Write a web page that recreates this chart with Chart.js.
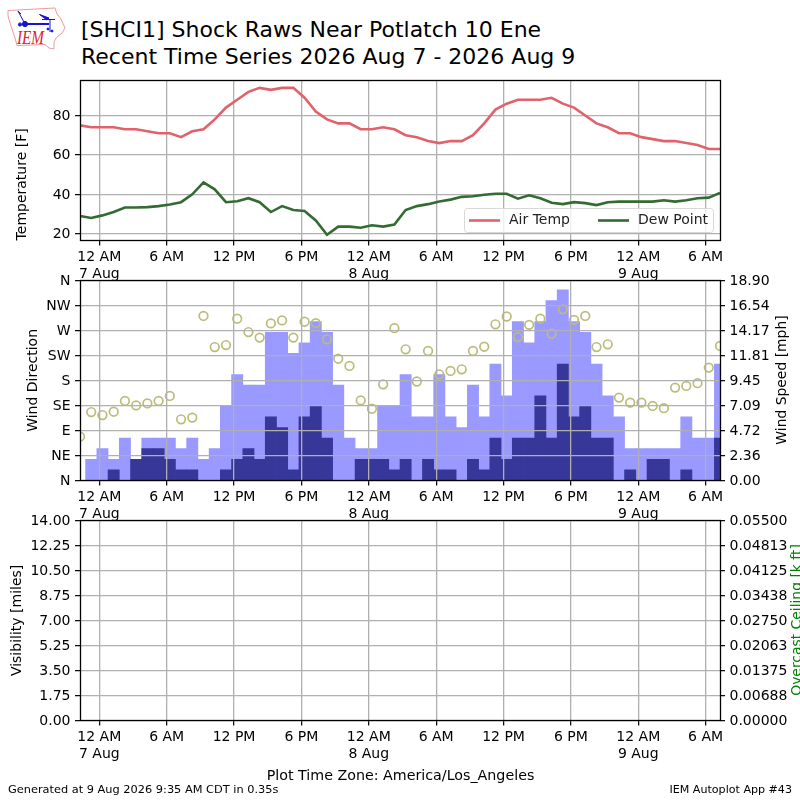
<!DOCTYPE html>
<html><head><meta charset="utf-8">
<script src="https://cdn.jsdelivr.net/npm/chart.js@4"></script>
<style>
html,body{margin:0;padding:0;background:#fff;width:800px;height:800px;overflow:hidden;font-family:"DejaVu Sans",sans-serif;color:#000}
canvas{position:absolute;left:0}
.t{position:absolute;white-space:nowrap;line-height:1}
.r{transform:translate(-50%,-50%) rotate(-90deg);transform-origin:center}
</style></head><body>
<svg style="position:absolute;left:0;top:0" width="70" height="54" viewBox="0 0 70 54">
<path d="M8 10.5 L55 8 L57 14 L61 19 L65 28 L62 33 L56 38 L54 42 L54 49 L49 48 L45 44.5 L17 45.5 L15 38 L11 26 L8 16 Z" fill="#fff" stroke="#ee9a9e" stroke-width="1"/>
<g stroke="#1414d2" fill="#1414d2">
<line x1="25" y1="24" x2="49" y2="24" stroke-width="2"/><circle cx="25" cy="24" r="2.6"/>
<line x1="42" y1="19.5" x2="55" y2="19.5" stroke-width="1"/><path d="M39.5 14.5 L49 18 L47 20 Z"/>
<line x1="25" y1="24" x2="18" y2="11" stroke-width="1"/><line x1="18" y1="11" x2="21" y2="14" stroke-width="1"/>
<line x1="50" y1="20" x2="50" y2="32" stroke-width="1"/><circle cx="20" cy="24.5" r="1.6"/><circle cx="48" cy="29" r="1"/><circle cx="52" cy="31" r="1"/>
</g>
<text x="17" y="43.5" font-family="Liberation Serif" font-style="italic" font-size="18.5" fill="#d9232b" textLength="27" lengthAdjust="spacingAndGlyphs">IEM</text>
</svg>
<div class="t" style="left:81px;top:19px;font-size:22px">[SHCI1] Shock Raws Near Potlatch 10 Ene</div>
<div class="t" style="left:81px;top:46px;font-size:22px">Recent Time Series 2026 Aug 7 - 2026 Aug 9</div>
<canvas id="c1" width="800" height="230" style="top:60px;width:800px;height:230px"></canvas>
<canvas id="c2" width="800" height="270" style="top:260px;width:800px;height:270px"></canvas>
<canvas id="c3" width="800" height="270" style="top:500px;width:800px;height:270px"></canvas>
<div class="t r" style="left:782px;top:380px;font-size:13.9px">Wind Speed [mph]</div>
<div class="t r" style="left:797px;top:620px;font-size:13.9px;color:#008000">Overcast Ceiling [k ft]</div>
<div class="t" style="left:400.5px;top:768px;font-size:14.25px;transform:translateX(-50%)">Plot Time Zone: America/Los_Angeles</div>
<div class="t" style="left:8px;top:784px;font-size:11.35px">Generated at 9 Aug 2026 9:35 AM CDT in 0.35s</div>
<div class="t" style="right:8px;top:784px;font-size:11.1px">IEM Autoplot App #43</div>
<script>
const hours=[-1.72,-0.72,0.28,1.28,2.28,3.28,4.28,5.28,6.28,7.28,8.28,9.28,10.28,11.28,12.28,13.28,14.28,15.28,16.28,17.28,18.28,19.28,20.28,21.28,22.28,23.28,24.28,25.28,26.28,27.28,28.28,29.28,30.28,31.28,32.28,33.28,34.28,35.28,36.28,37.28,38.28,39.28,40.28,41.28,42.28,43.28,44.28,45.28,46.28,47.28,48.28,49.28,50.28,51.28,52.28,53.28,54.28,55.28];
const airTemp=[75,74,74,74,73,73,72,71,71,69,72,73,78,84,88,92,94,93,94,94,89,82,78,76,76,73,73,74,73,70,69,67,66,67,67,70,76,83,86,88,88,88,89,86,84,80,76,74,71,71,69,68,67,67,66,65,63,63];
const dewPoint=[29,28,29.3,31,33.3,33.3,33.5,34,34.8,36,40,46,42.5,36,36.5,38,36,31,34,32,31.5,26.7,19.5,23.6,23.6,23,24.3,23.6,24.6,32,34,35,36.3,37.3,38.7,39,39.8,40.3,40.3,37.8,39.5,38,35.7,35,36,35.5,34.5,36,36.3,36.3,36.3,36.3,37,36.3,37,38,38.3,40.7];
const windGust=[0,2,3,2,4,2,4,4,4,3,4,2,3,7,10,9,9,14,14,12,13,15,14,9,4,3,3,7,7,10,6,6,10,6,5,9,6,11,8,15,13,15,17,18,15,14,11,8,6,3,3,3,3,3,6,4,4,11];
const windSpeed=[0,0,0,1,0,2,3,3,2,1,1,0,0,1,2,3,2,6,5,1,6,7,4,0,0,2,2,2,1,2,0,2,1,1,0,2,1,4,2,4,4,8,4,11,6,7,4,4,0,1,0,2,2,0,1,0,0,4];
const windDir=[78.6,123,117.6,123.6,143,135,138.6,143,152,110,113,296,240,243.6,291,267,257,282.6,288,257,285.6,283,254,219,206,144,129,173,274,236,178,233,191,197,200,233,240.6,281,295,258,280,291,264,308,289,296,240,245,149,140,140,134,130,167,170,175,203,242];
const visibility=[];
const ceiling=[];
const xTickHours=[0,6,12,18,24,30,36,42,48,54];
const xTickLabels=[["12 AM","7 Aug"],"6 AM","12 PM","6 PM",["12 AM","8 Aug"],"6 AM","12 PM","6 PM",["12 AM","9 Aug"],"6 AM"];
const tempTicks=[20,40,60,80];
const dirTicks=[0,45,90,135,180,225,270,315,360];
const dirLabels=["N","NE","E","SE","S","SW","W","NW","N"];
const speedTicks=[0,2.3625,4.725,7.0875,9.45,11.8125,14.175,16.5375,18.9];
const speedLabels=["0.00","2.36","4.72","7.09","9.45","11.81","14.17","16.54","18.90"];
const visTicks=[0,1.75,3.5,5.25,7,8.75,10.5,12.25,14];
const visLabels=["0.00","1.75","3.50","5.25","7.00","8.75","10.50","12.25","14.00"];
const ceilTicks=[0,0.006875,0.01375,0.020625,0.0275,0.034375,0.04125,0.048125,0.055];
const ceilLabels=["0.00000","0.00688","0.01375","0.02063","0.02750","0.03438","0.04125","0.04813","0.05500"];

const FONT={family:'"DejaVu Sans"',size:14};
const GRID='#b0b0b0';
Chart.defaults.animation=false;
Chart.defaults.color='#000';
Chart.defaults.font.family='"DejaVu Sans"';
const setTicks=vals=>s=>{s.ticks=vals.map(v=>({value:v}));};
const fixW=w=>s=>{s.width=w;};
function xAxis(){return{type:'linear',min:hours[0],max:hours[hours.length-1],offset:false,
  afterBuildTicks:setTicks(xTickHours),afterFit:s=>{s.height=49.6;},
  border:{display:false},
  grid:{color:GRID,lineWidth:1.3,tickColor:'#000',tickLength:5,tickWidth:1.2,offset:false,z:1},
  ticks:{autoSkip:false,maxRotation:0,minRotation:0,padding:4,font:FONT,color:'#000',callback:(v,i)=>xTickLabels[i]}};}
function yAxis(position,vals,labels,title,width,titlePad,onArea){return{type:'linear',position,min:vals[0],max:vals[vals.length-1],
  afterBuildTicks:setTicks(vals),afterFit:fixW(width),
  border:{display:false},
  grid:{color:GRID,lineWidth:1.3,tickColor:'#000',tickLength:5,tickWidth:1.2,drawOnChartArea:onArea,z:1},
  ticks:{padding:4.5,font:FONT,color:'#000',autoSkip:false,labelOffset:0.8,callback:(v,i)=>labels[i]},
  title:title?{display:true,text:title,font:FONT,color:'#000',padding:{top:titlePad,bottom:0}}:{display:false}};}
const spines={id:'spines',afterDraw(c){const a=c.chartArea,x=c.ctx;x.save();x.strokeStyle='#000';x.lineWidth=1.3;
  x.strokeRect(Math.round(a.left)+.5,Math.round(a.top)+.5,Math.round(a.right-a.left),Math.round(a.bottom-a.top));x.restore();}};
const cornerLegend={id:'cornerLegend',afterDraw(c){const x=c.ctx,ds=c.data.datasets;x.save();
  x.beginPath();x.roundRect(464.5,148.5,249,24,3);x.fillStyle='rgba(255,255,255,.8)';x.fill();x.strokeStyle='#d8d8d8';x.lineWidth=1;x.stroke();
  x.font='14px "DejaVu Sans"';x.textBaseline='middle';
  [[469,509],[598,638]].forEach((p,i)=>{x.strokeStyle=ds[i].borderColor;x.lineWidth=ds[i].borderWidth;
    x.beginPath();x.moveTo(p[0],160.5);x.lineTo(p[0]+31,160.5);x.stroke();x.fillStyle='#222';x.fillText(ds[i].label,p[1],160.5);});
  x.restore();}};
const baseOpts={responsive:false,devicePixelRatio:1,animation:false,plugins:{legend:{display:false},tooltip:{enabled:false}}};

const tempScaleY=yAxis('left',tempTicks,tempTicks.map(String),'Temperature [F]',80,14.2,true);
tempScaleY.min=16.6;tempScaleY.max=97.8;tempScaleY.grid.z=0;tempScaleY.title.align='start';
const x1=xAxis();x1.grid.z=0;
new Chart(document.getElementById('c1'),{type:'line',data:{labels:hours,datasets:[
  {label:'Air Temp',data:airTemp,borderColor:'#e0626a',borderWidth:2.6,pointRadius:0,tension:0},
  {label:'Dew Point',data:dewPoint,borderColor:'#336b33',borderWidth:2.6,pointRadius:0,tension:0}]},
  options:{...baseOpts,layout:{padding:{top:20.4,right:80,left:0,bottom:0}},scales:{x:x1,y:tempScaleY}},plugins:[spines,cornerLegend]});

new Chart(document.getElementById('c2'),{type:'bar',data:{labels:hours,datasets:[
  {type:'line',label:'Wind Direction',data:windDir,yAxisID:'y',showLine:false,pointStyle:'circle',pointRadius:4.3,pointBorderWidth:1.7,pointBorderColor:'#bcbc7a',pointBackgroundColor:'rgba(0,0,0,0)',order:0},
  {label:'Wind Speed',data:windSpeed,yAxisID:'y2',backgroundColor:'#373699',borderWidth:0,grouped:false,barPercentage:1,categoryPercentage:1,order:1},
  {label:'Wind Gust',data:windGust,yAxisID:'y2',backgroundColor:'#9999ff',borderWidth:0,grouped:false,barPercentage:1,categoryPercentage:1,order:2}]},
  options:{...baseOpts,layout:{padding:{top:20.4,left:0,right:0,bottom:0}},scales:{x:xAxis(),
    y:yAxis('left',dirTicks,dirLabels,'Wind Direction',80,24.7,true),
    y2:yAxis('right',speedTicks,speedLabels,null,80,0,false)}},plugins:[spines]});

new Chart(document.getElementById('c3'),{type:'line',data:{labels:hours,datasets:[
  {label:'Visibility',data:visibility,yAxisID:'y'},
  {label:'Overcast Ceiling',data:ceiling,yAxisID:'y2'}]},
  options:{...baseOpts,layout:{padding:{top:20.4,left:0,right:0,bottom:0}},scales:{x:xAxis(),
    y:yAxis('left',visTicks,visLabels,'Visibility [miles]',80,8.7,true),
    y2:yAxis('right',ceilTicks,ceilLabels,null,80,0,false)}},plugins:[spines]});
</script>
</body></html>
